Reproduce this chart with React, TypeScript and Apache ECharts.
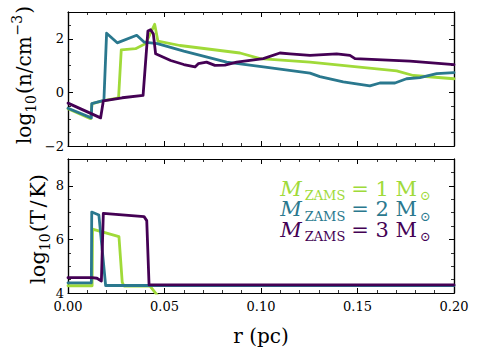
import React, { useEffect, useRef } from "react";
import * as echarts from "echarts";

// ---------- data ----------
const C1 = "#a0da39";
const C2 = "#2a788e";
const C3 = "#440154";

// top panel: log10 density
const r1n = [0, 0.0117, 0.0125, 0.018, 0.0262, 0.0276, 0.035, 0.0402, 0.0449, 0.0466, 0.058, 0.0891, 0.0995, 0.1254, 0.16, 0.1703, 0.1789, 0.2];
const n1 = [-0.61, -0.98, -0.42, -0.32, -0.2, 1.59, 1.63, 1.82, 2.54, 1.91, 1.75, 1.47, 1.26, 1.13, 0.88, 0.8, 0.63, 0.51];

const r2n = [0, 0.0121, 0.0123, 0.0186, 0.02, 0.0255, 0.0356, 0.0394, 0.0463, 0.06, 0.0822, 0.1012, 0.1254, 0.1305, 0.1426, 0.1564, 0.1616, 0.1694, 0.1754, 0.1824, 0.191, 0.2];
const n2 = [-0.59, -0.95, -0.42, -0.3, 2.21, 1.85, 2.13, 1.88, 1.82, 1.54, 1.13, 0.95, 0.72, 0.59, 0.39, 0.24, 0.35, 0.35, 0.51, 0.55, 0.7, 0.74];

const r3n = [0, 0.0169, 0.0183, 0.0281, 0.0389, 0.0414, 0.0428, 0.0442, 0.0454, 0.0532, 0.06, 0.0658, 0.0675, 0.0718, 0.0761, 0.0813, 0.0874, 0.1012, 0.1098, 0.115, 0.1254, 0.1392, 0.1461, 0.1487, 0.1772, 0.2];
const n3 = [-0.4, -0.95, -0.32, -0.2, -0.11, 2.29, 2.34, 2.19, 1.44, 1.19, 1.04, 0.95, 1.07, 1.13, 1.01, 1.02, 1.13, 1.26, 1.47, 1.44, 1.38, 1.44, 1.38, 1.26, 1.17, 1.04];

// bottom panel: log10 temperature
const r1t = [0, 0.0125, 0.0127, 0.0264, 0.0281, 0.029, 0.0425, 0.047, 0.2];
const t1 = [4.27, 4.27, 6.38, 6.1, 4.4, 4.26, 4.26, 3.85, 3.85];

const r2t = [0, 0.0121, 0.0123, 0.016, 0.0195, 0.2];
const t2 = [4.38, 4.38, 7.02, 6.91, 4.28, 4.28];

const r3t = [0, 0.0125, 0.015, 0.0173, 0.0183, 0.0394, 0.0408, 0.042, 0.2];
const t3 = [4.57, 4.57, 4.55, 4.45, 6.97, 6.85, 6.7, 4.3, 4.3];

const xTicks = { min: 0, max: 0.2, interval: 0.05 };
const yTopTicks = { min: -2, max: 3, interval: 2, minor: 0.5 };
const yBotTicks = { min: 4, max: 9, interval: 2, minor: 0.5 };
const legendMasses = ["1", "2", "3"];

// ---------- helpers ----------
const FAM = "DejaVu Serif";

let measureCtx: CanvasRenderingContext2D | null = null;
function measure(t: string, size: number, italic: boolean) {
  if (!measureCtx) measureCtx = document.createElement("canvas").getContext("2d");
  measureCtx!.font = `${italic ? "italic " : ""}${size}px "${FAM}"`;
  return measureCtx!.measureText(t).width;
}

type Piece = { t: string; size: number; dy?: number; italic?: boolean; gap?: number };
function buildMath(pieces: Piece[], color: string) {
  let x = 0;
  const children: any[] = [];
  for (const p of pieces) {
    const w = measure(p.t, p.size, !!p.italic);
    children.push({
      type: "text",
      x,
      y: (p.dy || 0) - 0.34 * p.size,
      style: {
        text: p.t,
        font: `${p.italic ? "italic " : ""}${p.size}px ${FAM}`,
        fill: color,
        align: "left",
        verticalAlign: "middle",
        textAlign: "left",
        textVerticalAlign: "middle",
      },
    });
    x += w + (p.gap || 0);
  }
  return { children, width: x };
}

const mkPair = (xs: number[], ys: number[]) => xs.map((x, i) => [x, ys[i]]);

const fmtNum = (max: number) => (v: number) => {
  if (Math.abs(v - max) < 1e-9) return "";
  return v < 0 ? "\u2212" + Math.abs(v) : String(v);
};

const axisLine = { show: true, onZero: false, lineStyle: { color: "#000", width: 1.2 } };

function xAxes(grid: number, labels: boolean) {
  return ["bottom", "top"].map((pos) => ({
    type: "value",
    gridIndex: grid,
    position: pos,
    min: xTicks.min,
    max: xTicks.max,
    interval: xTicks.interval,
    axisLine,
    splitLine: { show: false },
    axisTick: { show: true, inside: true, length: 5, lineStyle: { color: "#000", width: 1 } },
    minorTick: { show: true, splitNumber: 5, length: 3, lineStyle: { color: "#000", width: 0.8 } },
    axisLabel: {
      show: labels && pos === "bottom",
      formatter: (v: number) => v.toFixed(2),
      fontSize: 13,
      fontFamily: FAM,
      color: "#000",
      margin: 7,
    },
  }));
}

function yAxes(grid: number, t: { min: number; max: number; interval: number; minor: number }) {
  const out: any[] = [];
  for (const pos of ["left", "right"]) {
    out.push({
      type: "value",
      gridIndex: grid,
      position: pos,
      min: t.min,
      max: t.max,
      interval: t.interval,
      axisLine,
      splitLine: { show: false },
      axisTick: { show: true, inside: true, length: 5, lineStyle: { color: "#000", width: 1 } },
      axisLabel: {
        show: pos === "left",
        formatter: fmtNum(t.max),
        fontSize: 13,
        fontFamily: FAM,
        color: "#000",
        margin: 4,
      },
    });
  }
  for (const pos of ["left", "right"]) {
    out.push({
      type: "value",
      gridIndex: grid,
      position: pos,
      min: t.min,
      max: t.max,
      interval: t.minor,
      axisLine,
      splitLine: { show: false },
      axisTick: { show: true, inside: true, length: 3, lineStyle: { color: "#000", width: 0.8 } },
      axisLabel: { show: false },
    });
  }
  return out;
}

function lineSeries(data: number[][], color: string, xi: number, yi: number, z: number) {
  return {
    type: "line",
    data,
    xAxisIndex: xi,
    yAxisIndex: yi,
    showSymbol: false,
    symbol: "none",
    smooth: false,
    clip: true,
    z,
    lineStyle: { color, width: 2.8, join: "round", cap: "round" },
  };
}

export default function App() {
  const ref = useRef<HTMLDivElement>(null);
  useEffect(() => {
    document.body.style.margin = "0";
    const chart = echarts.init(ref.current!, null, { renderer: "svg" });

    const topTitle = buildMath(
      [
        { t: "log", size: 20 },
        { t: "10", size: 14, dy: 5, gap: 1 },
        { t: "(n/cm", size: 20, gap: 1 },
        { t: "\u22123", size: 14, dy: -9, gap: 1 },
        { t: ")", size: 20 },
      ],
      "#000"
    );
    const botTitle = buildMath(
      [
        { t: "log", size: 21 },
        { t: "10", size: 14, dy: 5, gap: 1 },
        { t: "(T", size: 21, gap: 2.5 },
        { t: "/", size: 21, gap: 2.5 },
        { t: "K)", size: 21 },
      ],
      "#000"
    );
    const xTitle = buildMath([{ t: "r (pc)", size: 20 }], "#000");

    const legendColors = [C1, C2, C3];
    const legendBaselines = [196, 216.5, 237];
    const legendGroups = legendMasses.map((m, i) => {
      const b = buildMath(
        [
          { t: "M", size: 21, italic: true, gap: 3 },
          { t: "ZAMS", size: 13, dy: 4, gap: 6 },
          { t: "= " + m + " M", size: 21, gap: 3 },
          { t: "\u2299", size: 13, dy: 4 },
        ],
        legendColors[i]
      );
      return { type: "group", x: 431 - b.width, y: legendBaselines[i], children: b.children, z: 100 };
    });

    const option: any = {
      animation: false,
      backgroundColor: "#fff",
      textStyle: { fontFamily: FAM },
      grid: [
        { left: 68, right: 25, top: 12, height: 134 },
        { left: 68, right: 25, top: 159, height: 134 },
      ],
      xAxis: [...xAxes(0, false), ...xAxes(1, true)],
      yAxis: [...yAxes(0, yTopTicks), ...yAxes(1, yBotTicks)],
      series: [
        lineSeries(mkPair(r1n, n1), C1, 0, 0, 2),
        lineSeries(mkPair(r2n, n2), C2, 0, 0, 3),
        lineSeries(mkPair(r3n, n3), C3, 0, 0, 4),
        lineSeries(mkPair(r1t, t1), C1, 2, 4, 2),
        lineSeries(mkPair(r2t, t2), C2, 2, 4, 3),
        lineSeries(mkPair(r3t, t3), C3, 2, 4, 4),
      ],
      graphic: [
        {
          type: "group",
          x: 24,
          y: 75 + topTitle.width / 2,
          rotation: Math.PI / 2,
          children: topTitle.children.map((c: any) => ({ ...c, y: c.y + 7 })),
        },
        {
          type: "group",
          x: 38,
          y: 229 + botTitle.width / 2,
          rotation: Math.PI / 2,
          children: botTitle.children.map((c: any) => ({ ...c, y: c.y + 7 })),
        },
        {
          type: "group",
          x: 261 - xTitle.width / 2,
          y: 343,
          children: xTitle.children,
        },
        ...legendGroups,
      ],
    };
    chart.setOption(option);
    return () => chart.dispose();
  }, []);
  return <div ref={ref} style={{ width: 479, height: 354 }} />;
}
